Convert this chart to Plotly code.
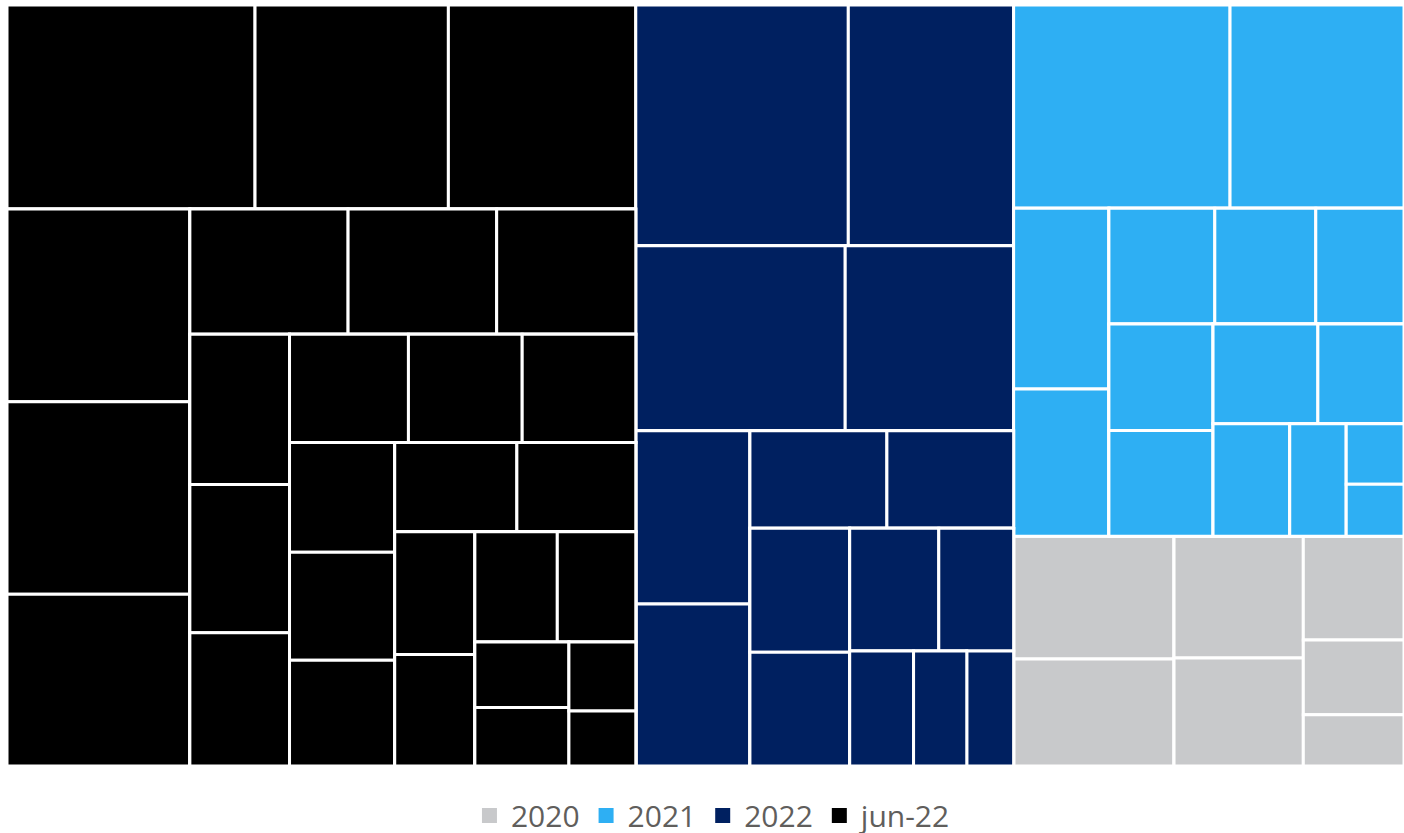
import plotly.graph_objects as go

# Top-level groups (layout order) and legend order
groups = ["jun-22", "2022", "2021", "2020"]
legend_order = ["2020", "2021", "2022", "jun-22"]
group_colors = {
    "jun-22": "#000000",
    "2022": "#002060",
    "2021": "#2EAFF3",
    "2020": "#C8C9CB",
}

# Leaf values per group (estimated from tile areas), in layout order
values_jun22 = [5068, 3951, 3829, 3532, 3528, 3148, 1987, 1866, 1747,
                1499, 1481, 1331, 1289, 1233, 1231, 1158, 1139, 1114,
                1094, 1065, 985, 896, 910, 866, 618, 551, 462, 369]
values_2022 = [5130, 3990, 3880, 3120, 1982, 1853, 1339, 1239, 1240,
               1136, 1095, 920, 736, 613, 540]
values_2021 = [4410, 3545, 1725, 1405, 1228, 1171, 1023, 1110, 1103,
               1048, 861, 863, 636, 350, 300]
values_2020 = [1974, 1720, 1577, 1400, 1047, 754, 518]

# Sub-group sizes (number of leaves per sub-group, in order)
strips_jun22 = [3, 3, 3, 3, 3, 3, 2, 2, 2, 2, 1, 1]
strips_2022 = [2, 2, 2, 2, 2, 2, 2, 1]
strips_2021 = [2, 2, 3, 2, 2, 1, 1, 2]
strips_2020 = [2, 2, 3]

group_data = {
    "jun-22": (values_jun22, strips_jun22),
    "2022": (values_2022, strips_2022),
    "2021": (values_2021, strips_2021),
    "2020": (values_2020, strips_2020),
}

ids, labels, parents, values, colors = [], [], [], [], []
counter = {"n": 0}


def add_node(node_id, label, parent, value, color):
    ids.append(node_id)
    labels.append(label)
    parents.append(parent)
    values.append(value)
    colors.append(color)


def new_id(group):
    counter["n"] += 1
    return f"{group}/g{counter['n']}"


def add_leaf(group, v, parent, leaf_no):
    add_node(f"{group} #{leaf_no}", group, parent, v, group_colors[group])


def build(group, vals, counts, parent_id, start):
    color = group_colors[group]
    if len(counts) == 1:
        for k, v in enumerate(vals):
            add_leaf(group, v, parent_id, start + k)
        return
    c = counts[0]
    strip, rest = vals[:c], vals[c:]
    if c == 1:
        add_leaf(group, strip[0], parent_id, start)
    else:
        sid = new_id(group)
        add_node(sid, group, parent_id, 0, color)
        for k, v in enumerate(strip):
            add_leaf(group, v, sid, start + k)
    if len(counts) == 2 and counts[1] == 1:
        add_leaf(group, rest[0], parent_id, start + c)
    else:
        rid = new_id(group)
        add_node(rid, group, parent_id, 0, color)
        build(group, rest, counts[1:], rid, start + c)


for g in groups:
    add_node(g, g, "", 0, group_colors[g])
for g in groups:
    vals, counts = group_data[g]
    build(g, vals, counts, g, 1)

fig = go.Figure()
fig.add_trace(go.Treemap(
    ids=ids, labels=labels, parents=parents, values=values,
    branchvalues="remainder",
    sort=False,
    marker=dict(colors=colors, line=dict(color="white", width=3),
                pad=dict(t=0, l=0, r=0, b=0)),
    tiling=dict(packing="squarify", squarifyratio=1, pad=0),
    pathbar=dict(visible=False),
    textinfo="none",
    hoverinfo="label+value",
    root=dict(color="white"),
    domain=dict(x=[0, 1], y=[0, 1]),
))

for g in legend_order:
    fig.add_trace(go.Scatter(
        x=[None], y=[None], mode="markers", name=g,
        marker=dict(symbol="square", size=15, color=group_colors[g]),
        showlegend=True, hoverinfo="skip",
    ))

fig.update_layout(
    width=1404, height=833,
    margin=dict(l=6.5, r=0, t=4.5, b=66.5, pad=0),
    paper_bgcolor="white", plot_bgcolor="white",
    xaxis=dict(visible=False), yaxis=dict(visible=False),
    legend=dict(
        orientation="h", xref="container", yref="container",
        x=0.3333, y=0.021, xanchor="left", yanchor="middle",
        itemwidth=33,
        font=dict(family="Segoe UI, Open Sans, sans-serif", size=30, color="#605E5C"),
        bgcolor="rgba(0,0,0,0)", itemclick=False, itemdoubleclick=False,
        traceorder="normal",
    ),
)

fig.write_html("out.html")
